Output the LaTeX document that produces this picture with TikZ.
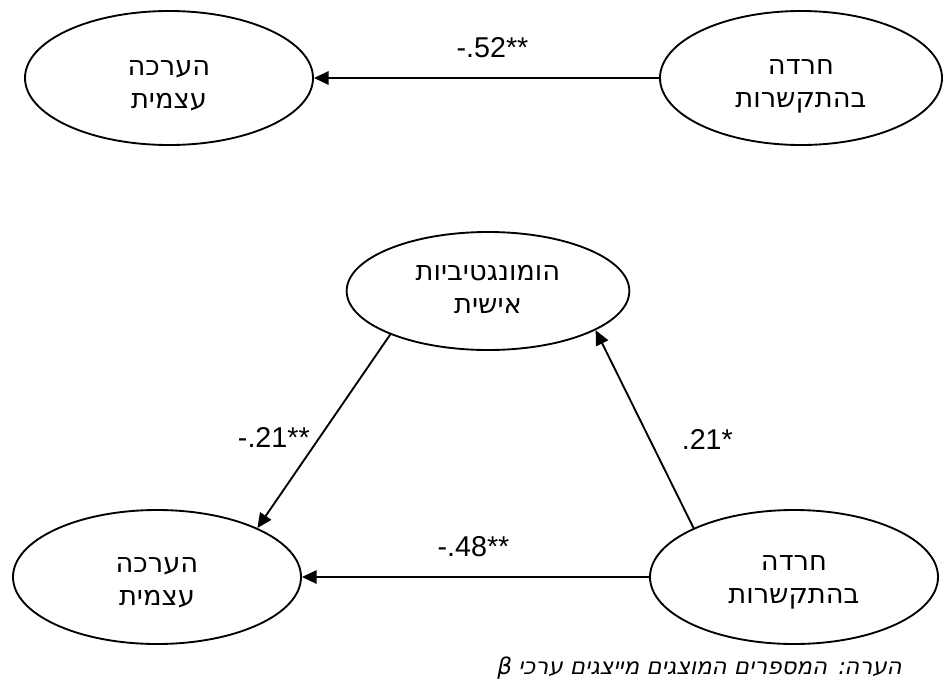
\documentclass[tikz,border=0pt]{standalone}
\usepackage{fontspec}
\setmainfont{Liberation Sans}
\newfontfamily\hebfont[Script=Hebrew]{DejaVu Sans}
\newfontfamily\hebnotefont[Script=Hebrew,FakeSlant=0.2]{DejaVu Sans}
\TeXXeTstate=1
\usepackage{tikz}
\usetikzlibrary{positioning}
\usetikzlibrary{shapes.geometric}
\usetikzlibrary{arrows.meta}
\newcommand{\heb}[1]{{\hebfont\beginR #1\endR}}
\newcommand{\latent}[5]{
    \node (#1) [draw, ellipse, line width=1.4pt, minimum width=\ellWidth pt, minimum height=\ellHeight pt, #4] {};
    \node (#1_text) [below=#5pt of #1.center, anchor=center] {\heb{#2}\\\heb{#3}};
}

\begin{document}
\begin{tikzpicture}[inner sep=0.0pt, align=center, font=\fontsize{20.5}{24.75}\selectfont,
    arrowline/.style={draw, line width=1.4pt, -{Triangle[length=11pt, width=10pt]}},
    coef/.style={font=\fontsize{21.5}{24}\selectfont}]
    \pgfmathsetmacro{\ellWidth}{216}
    \pgfmathsetmacro{\ellHeight}{100.5}
    \useasboundingbox (0,0) rectangle (707.25pt,-511.5pt);

    % upper model: direct effect only
    \latent{selfT}{הערכה}{עצמית}{at={(126.75pt,-58.5pt)}}{6}
    \latent{anxT}{חרדה}{בהתקשרות}{right=474pt of selfT.center, anchor=center, minimum width=211.5pt}{6}

    % lower model: mediation
    \latent{homo}{הומונגטיביות}{אישית}{below right=159.75pt and 239.25pt of selfT.center, anchor=center, minimum width=212pt, minimum height=88.5pt}{-1}
    \latent{selfB}{הערכה}{עצמית}{below left=374.25pt and 9pt of selfT.center, anchor=center}{4}
    \latent{anxB}{חרדה}{בהתקשרות}{below left=374.25pt and 5.25pt of anxT.center, anchor=center}{4}

    \draw [arrowline] (anxT) -- (selfT) node[coef, midway, xshift=4.5pt, yshift=22.5pt] (cTop) {-.52**};
    \draw [arrowline] (anxB) -- (selfB) node[coef, midway, xshift=-1.5pt, yshift=23pt] (cDirect) {-.48**};
    \draw [arrowline] (homo.204) -- (selfB.26) node[coef, midway, xshift=-37.5pt, yshift=-5pt] (cB) {-.21**};
    \draw [arrowline] (anxB.154) -- (homo.340) node[coef, midway, xshift=47pt, yshift=-7.5pt] (cA) {.21*};

    \node (note) [anchor=base east, font=\fontsize{17.2}{20}\selectfont] at (676.5pt,-505.5pt) {\hebnotefont\beginR הערה: המספרים המוצגים מייצגים ערכי β\endR};
\end{tikzpicture}
\end{document}
